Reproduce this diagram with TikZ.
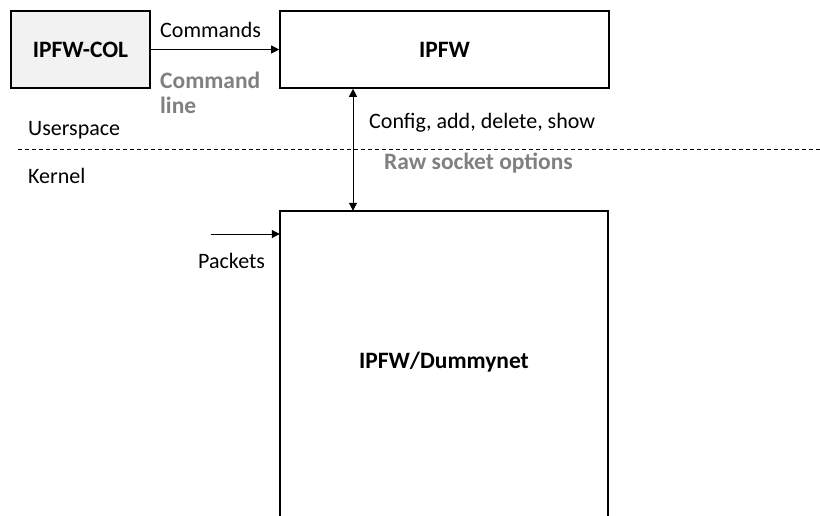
\documentclass[tikz,border=0pt]{standalone}
\usepackage{fontspec}
\setmainfont{Carlito}
\usetikzlibrary{arrows.meta}
\definecolor{boxgray}{HTML}{F2F2F2}
\definecolor{txtgray}{HTML}{808080}
\begin{document}
\begin{tikzpicture}[x=1pt,y=-1pt,
  lbl/.style={font=\fontsize{22}{25}\selectfont, inner sep=0pt, anchor=west},
  glbl/.style={font=\fontsize{23.5}{25}\selectfont\bfseries, text=txtgray, inner sep=0pt, anchor=west, align=left},
  boxstyle/.style={draw, line width=1.6pt, font=\fontsize{23.5}{25}\selectfont\bfseries, inner sep=0pt},
  conn/.style={line width=1pt, -{Triangle[length=8pt,width=8pt]}},
  dconn/.style={line width=1pt, {Triangle[length=8pt,width=8pt]}-{Triangle[length=8pt,width=8pt]}}]
\useasboundingbox (0,0) rectangle (820,515);
\clip (0,0) rectangle (820,515);
\node[boxstyle, fill=boxgray, minimum width=139pt, minimum height=77pt] (col) at (80.5,49.5) {IPFW-COL};
\node[boxstyle, minimum width=329pt, minimum height=77pt] (ipfw) at (444.5,49.5) {IPFW};
\node[font=\fontsize{23.5}{25}\selectfont\bfseries, minimum width=328pt, minimum height=302pt, inner sep=0pt] (dn) at (444,362) {IPFW/Dummynet};
\draw[line width=1.6pt] ([yshift=-30pt]dn.south west) -- (dn.north west) -- (dn.north east) -- ([yshift=-30pt]dn.south east);
\draw[conn] (col.east) -- (ipfw.west);
\node[lbl] (cmds) at (160,30) {Commands};
\node[glbl] (cmdline) at (160,92.5) {Command\\line};
\draw[dconn] (ipfw.south -| 353,0) -- (dn.north -| 353,0);
\node[lbl] (cfg) at (369,123) {Config, add, delete, show};
\node[glbl] (raw) at (384,163) {Raw socket options};
\coordinate (dl) at (18,149);
\coordinate (dr) at (820,149);
\draw[line width=0.8pt, dash pattern=on 4pt off 3pt] (dl) -- (dr);
\node[lbl] (us) at (28,130) {Userspace};
\node[lbl] (kn) at (28,176) {Kernel};
\coordinate (pk) at (211,234);
\draw[conn] (pk) -- (pk -| dn.west);
\node[lbl] (pkts) at (198,261) {Packets};
\end{tikzpicture}
\end{document}
